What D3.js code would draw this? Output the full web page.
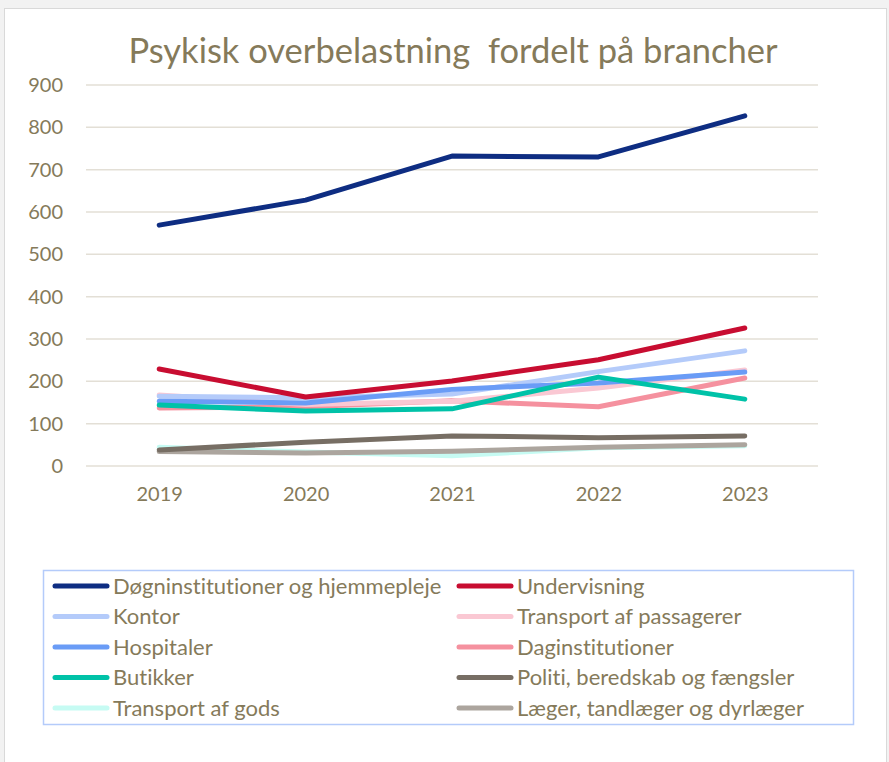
<!DOCTYPE html>
<html>
<head>
<meta charset="utf-8">
<script src="https://cdn.jsdelivr.net/npm/d3@7"></script>
<style>
  body { margin: 0; background: #f2f2f2; }
  text { font-family: Lato, "Open Sans", sans-serif; font-variant-ligatures: none; }
</style>
</head>
<body>
<div id="chart"></div>
<script>
var years = ["2019", "2020", "2021", "2022", "2023"];
var yTicks = [0, 100, 200, 300, 400, 500, 600, 700, 800, 900];

var dogn = [569, 628, 732, 730, 827];
var undervisning = [229, 163, 201, 251, 326];
var kontor = [165, 161, 170, 223, 272];
var passagerer = [168, 145, 153, 184, 227];
var hospitaler = [153, 149, 181, 196, 222];
var daginst = [137, 140, 154, 140, 208];
var butikker = [144, 130, 135, 210, 158];
var politi = [38, 56, 71, 67, 71];
var gods = [44, 33, 24, 43, 48];
var laeger = [34, 31, 35, 44, 50];

var seriesNames = [
  "Døgninstitutioner og hjemmepleje", "Undervisning",
  "Kontor", "Transport af passagerer",
  "Hospitaler", "Daginstitutioner",
  "Butikker", "Politi, beredskab og fængsler",
  "Transport af gods", "Læger, tandlæger og dyrlæger"
];
var seriesValues = [dogn, undervisning, kontor, passagerer, hospitaler,
  daginst, butikker, politi, gods, laeger];
var seriesColors = ["#0e2d82", "#c80d31", "#b4cbfa", "#fac8d3", "#6a9cf6",
  "#f5919f", "#00c2a8", "#776e64", "#c6fbf3", "#aca59e"];

// drawing order: back to front (roughly as in the original)
var drawOrder = [8, 9, 7, 5, 3, 2, 4, 6, 1, 0];

var W = 889, H = 762;
var textColor = "#857a5a";

var svg = d3.select("#chart").append("svg")
  .attr("width", W)
  .attr("height", H);

svg.append("rect")
  .attr("x", 4.5).attr("y", 8.5)
  .attr("width", 882).attr("height", 760)
  .attr("fill", "white")
  .attr("stroke", "#d9d9d9");

svg.append("text")
  .attr("x", 453)
  .attr("y", 63)
  .attr("text-anchor", "middle")
  .attr("font-size", 34.5)
  .attr("fill", textColor)
  .attr("xml:space", "preserve")
  .style("white-space", "pre")
  .text("Psykisk overbelastning  fordelt på brancher");

var x = d3.scalePoint()
  .domain(years)
  .range([86, 818])
  .padding(0.5);

var y = d3.scaleLinear()
  .domain([0, 900])
  .range([466, 85]);

// grid
svg.append("g")
  .selectAll("line")
  .data(yTicks)
  .join("line")
  .attr("x1", 86).attr("x2", 818)
  .attr("y1", d => y(d)).attr("y2", d => y(d))
  .attr("stroke", "#e3dfd6")
  .attr("stroke-width", 1.5);

var yAxis = svg.append("g")
  .attr("transform", "translate(86,0)")
  .call(d3.axisLeft(y).tickValues(yTicks).tickSize(0).tickPadding(23));
yAxis.select(".domain").remove();
yAxis.selectAll("text")
  .attr("font-size", 20)
  .attr("fill", textColor);

var xAxis = svg.append("g")
  .attr("transform", "translate(0,466)")
  .call(d3.axisBottom(x).tickSize(0).tickPadding(21));
xAxis.select(".domain").remove();
xAxis.selectAll("text")
  .attr("font-size", 20)
  .attr("fill", textColor);

var line = d3.line()
  .x((d, i) => x(years[i]))
  .y(d => y(d));

svg.append("g")
  .selectAll("path")
  .data(drawOrder)
  .join("path")
  .attr("d", i => line(seriesValues[i]))
  .attr("fill", "none")
  .attr("stroke", i => seriesColors[i])
  .attr("stroke-width", 5)
  .attr("stroke-linecap", "round")
  .attr("stroke-linejoin", "round");

// legend
svg.append("rect")
  .attr("x", 43.5).attr("y", 570.5)
  .attr("width", 810).attr("height", 154)
  .attr("fill", "none")
  .attr("stroke", "#b4cbfa")
  .attr("stroke-width", 1.5);

var legend = svg.append("g")
  .selectAll("g")
  .data(seriesNames)
  .join("g")
  .attr("transform", (d, i) =>
    "translate(" + (i % 2 == 0 ? 53 : 457) + "," + (586 + Math.floor(i / 2) * 30.5) + ")");

legend.append("line")
  .attr("x1", 2).attr("x2", 54)
  .attr("stroke", (d, i) => seriesColors[i])
  .attr("stroke-width", 5)
  .attr("stroke-linecap", "round");

legend.append("text")
  .attr("x", 60)
  .attr("dy", "0.35em")
  .attr("font-size", 22)
  .attr("fill", textColor)
  .text(d => d);
</script>
</body>
</html>
